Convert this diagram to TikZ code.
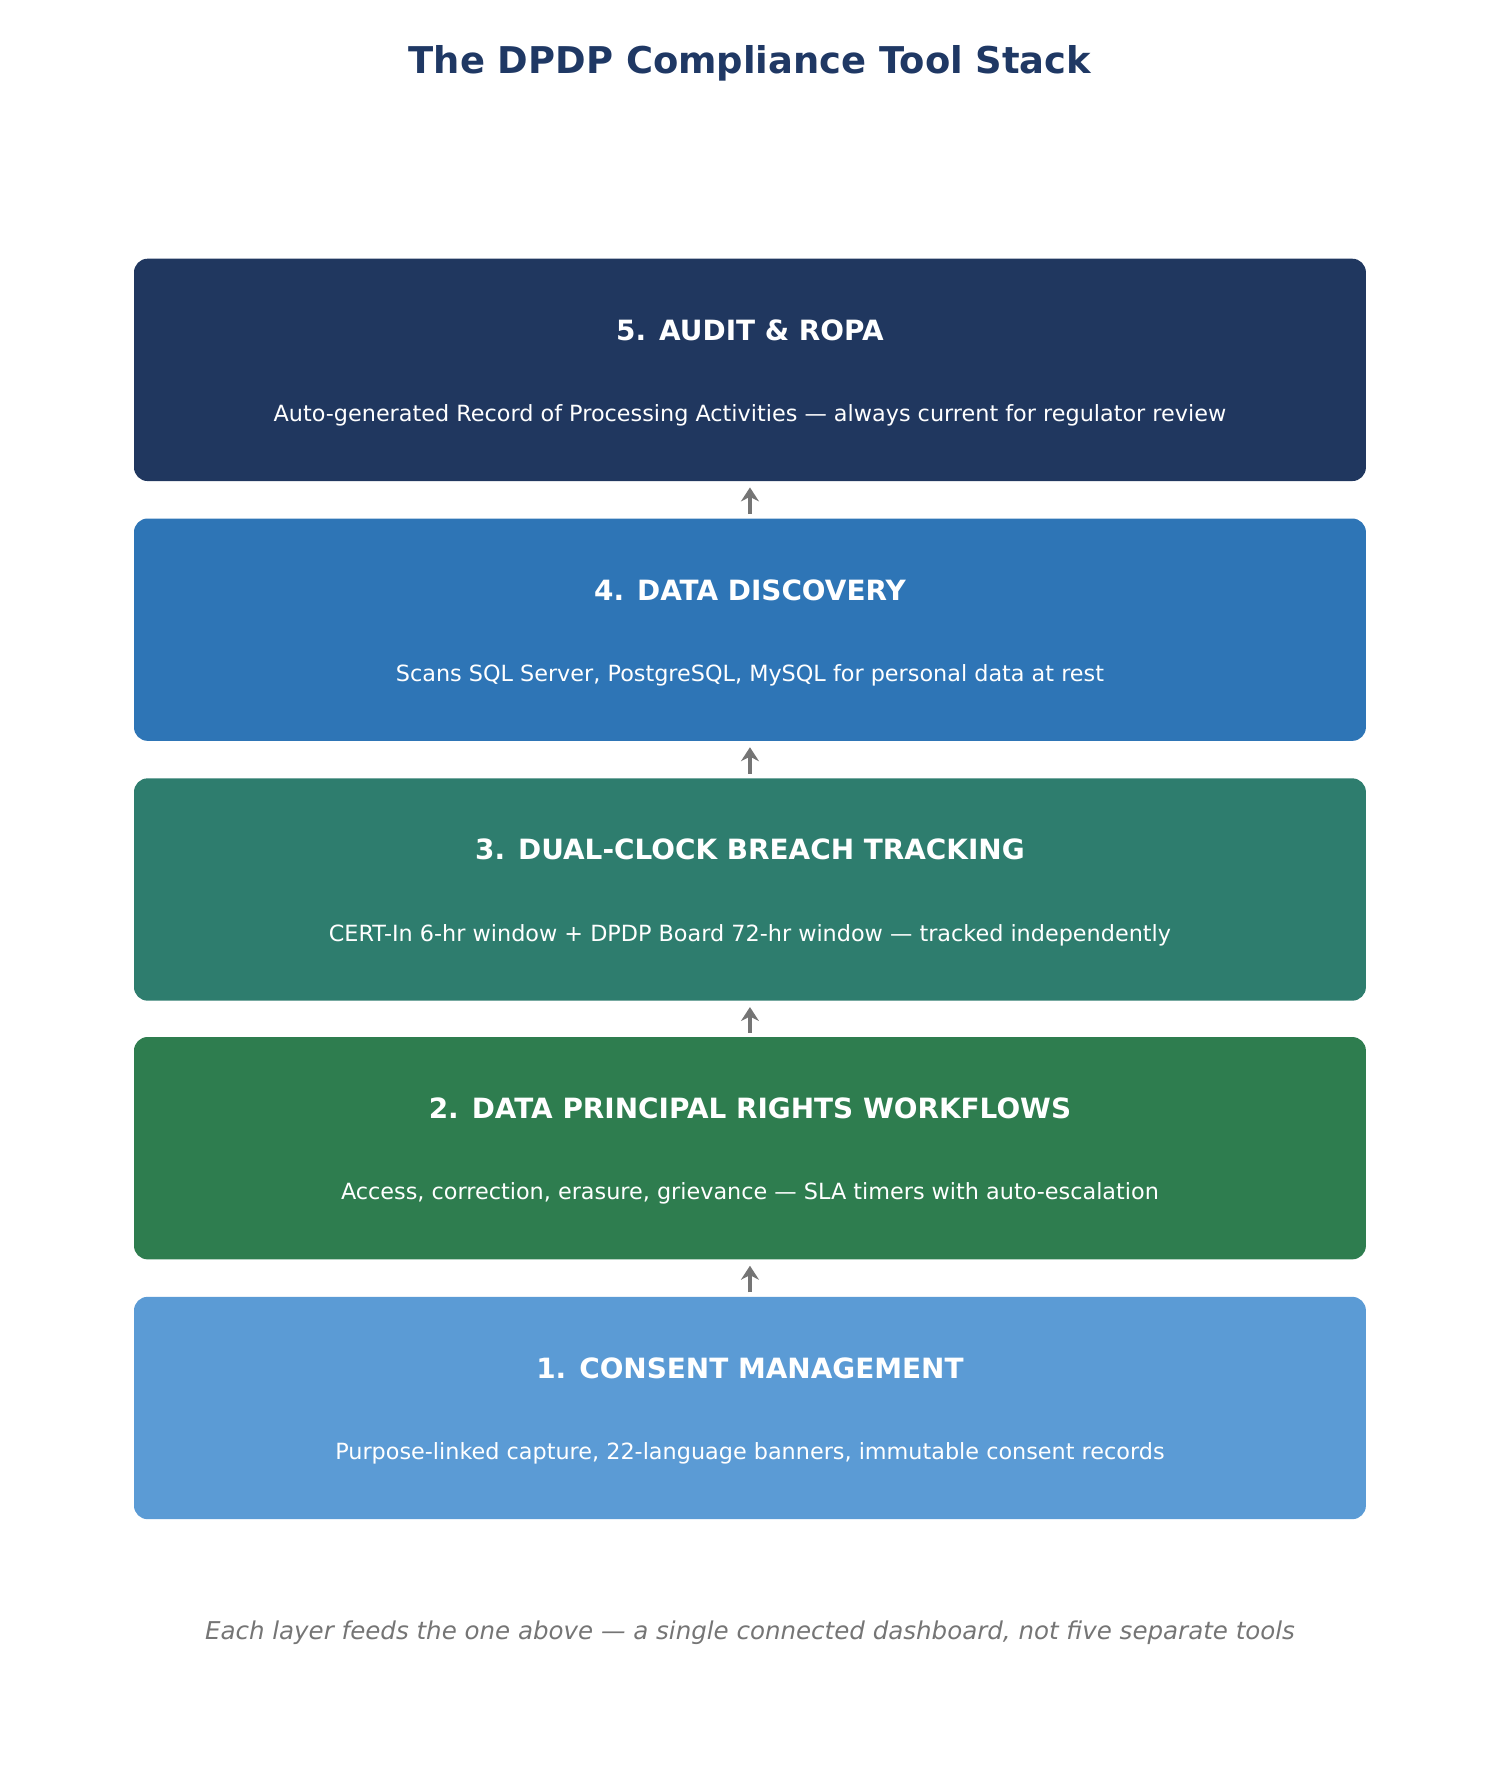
\documentclass[tikz,border=0pt]{standalone}
\usepackage{fontspec}
\setmainfont{DejaVu Sans}
\usetikzlibrary{arrows.meta}
\definecolor{titleblue}{HTML}{1F3864}
\definecolor{layerfive}{HTML}{20375F}
\definecolor{layerfour}{HTML}{2E75B6}
\definecolor{layerthree}{HTML}{2E7D6E}
\definecolor{layertwo}{HTML}{2E7D4F}
\definecolor{layerone}{HTML}{5B9BD5}
\definecolor{footgray}{HTML}{757575}
\tikzset{%
layer/.style={rounded corners=0.24cm,minimum width=21.72cm,minimum height=3.92cm,inner sep=0pt},
head/.style={text=white,font=\bfseries\fontsize{14}{16}\selectfont},
desc/.style={text=white,font=\fontsize{11.2}{13}\selectfont},
feed/.style={draw=footgray,line width=2.2pt,-{Stealth[length=7pt,width=9pt]},shorten <=2pt,shorten >=3pt}
}
\begin{document}
\begin{tikzpicture}[x=0.02cm,y=-0.02cm]
\useasboundingbox (0,0) rectangle (1322,1568);
\node[text=titleblue,font=\bfseries\fontsize{18.5}{22}\selectfont] (title) at (661,56) {The DPDP Compliance Tool Stack};
%%
\foreach \name/\col/\y/\hd/\txt in {five/layerfive/326/{5. AUDIT \& ROPA}/{Auto-generated Record of Processing Activities — always current for regulator review},
                                 four/layerfour/555/{4. DATA DISCOVERY}/{Scans SQL Server, PostgreSQL, MySQL for personal data at rest},
                                 three/layerthree/784/{3. DUAL-CLOCK BREACH TRACKING}/{CERT-In 6-hr window + DPDP Board 72-hr window — tracked independently},
                                 two/layertwo/1012/{2. DATA PRINCIPAL RIGHTS WORKFLOWS}/{Access, correction, erasure, grievance — SLA timers with auto-escalation},
                                 one/layerone/1241/{1. CONSENT MANAGEMENT}/{Purpose-linked capture, 22-language banners, immutable consent records}%
                                }
  {
  \node[layer,fill=\col] (\name) at (661,\y) {};
  \node[head] (\name-head) at (661,\y-35) {\hd};
  \node[desc] (\name-desc) at (661,\y+40) {\txt};
  }
%%
\draw[feed] (one.north)   -- (two.south);
\draw[feed] (two.north)   -- (three.south);
\draw[feed] (three.north) -- (four.south);
\draw[feed] (four.north)  -- (five.south);
%%
\node[text=footgray,font=\itshape\fontsize{12.3}{15}\selectfont] (foot) at (661,1439) {Each layer feeds the one above — a single connected dashboard, not five separate tools};
\end{tikzpicture}
\end{document}
